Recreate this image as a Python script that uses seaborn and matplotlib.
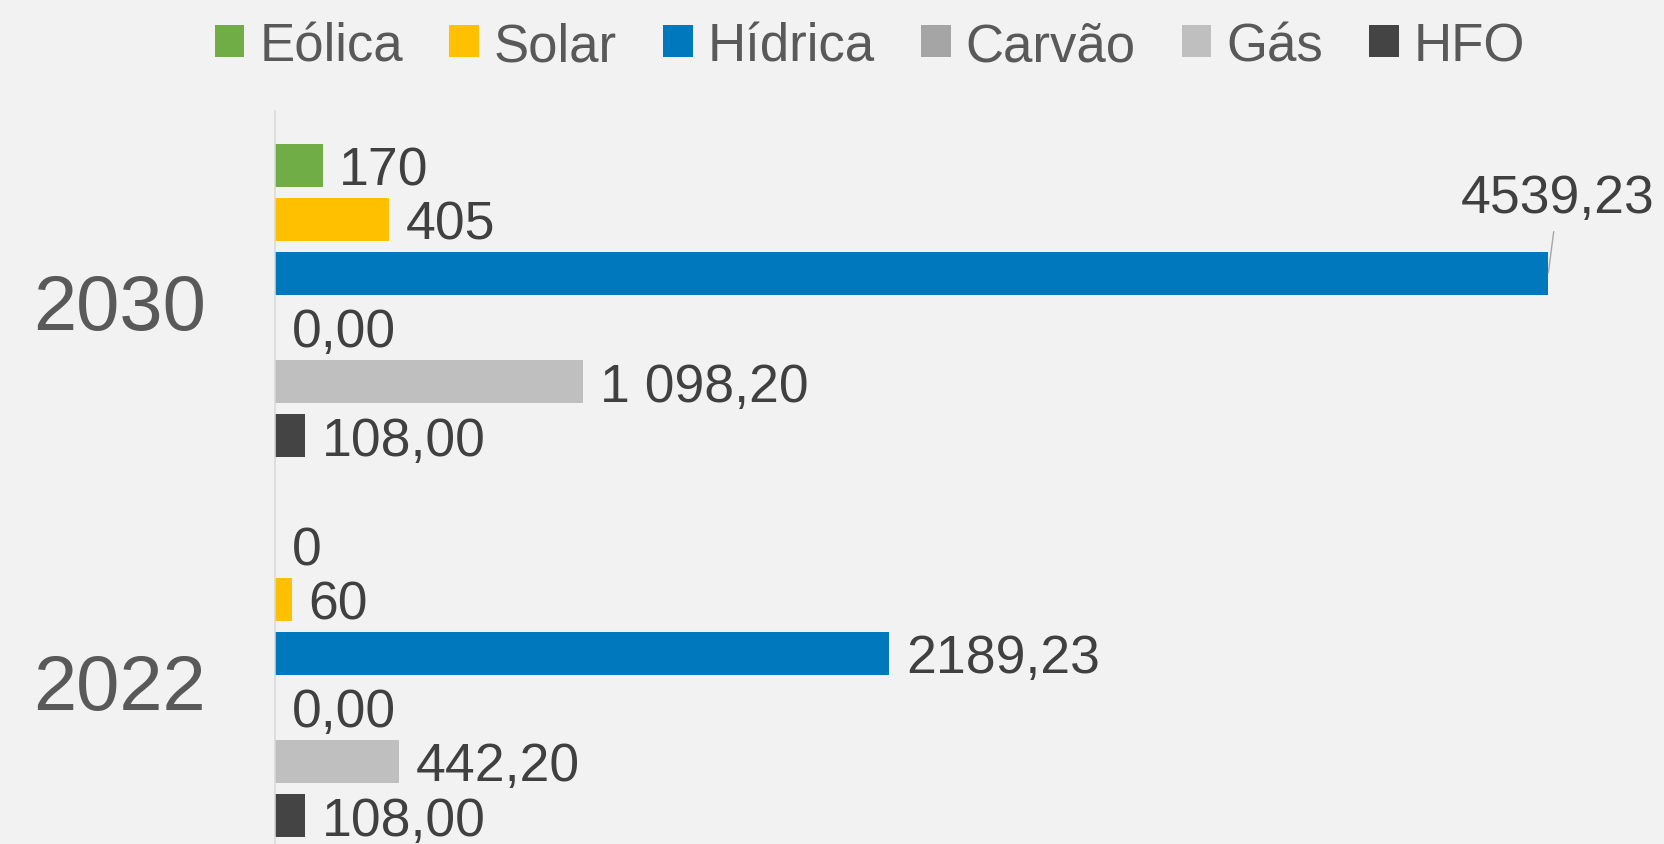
import matplotlib
matplotlib.use("Agg")
import matplotlib.pyplot as plt
from matplotlib.patches import Patch
import seaborn as sns
import pandas as pd

years = ["2030", "2022"]
sources = ["Eólica", "Solar", "Hídrica", "Carvão", "Gás", "HFO"]
values_2030 = [170, 405, 4539.23, 0, 1098.20, 108.00]
values_2022 = [0, 60, 2189.23, 0, 442.20, 108.00]
labels_2030 = ["170", "405", "4539,23", "0,00", "1 098,20", "108,00"]
labels_2022 = ["0", "60", "2189,23", "0,00", "442,20", "108,00"]
colors = ["#70AD47", "#FFC000", "#0078BE", "#A5A5A5", "#BFBFBF", "#444444"]

rows = []
for yr, vals in zip(years, [values_2030, values_2022]):
    for s, v in zip(sources, vals):
        rows.append({"Ano": yr, "Fonte": s, "Valor": v})
df = pd.DataFrame(rows)

sns.set_theme(style="white")
plt.rcParams["font.family"] = ["Liberation Sans", "DejaVu Sans"]

BG = "#F2F2F2"
W, H = 1665, 845
fig = plt.figure(figsize=(W / 100, H / 100), dpi=100, facecolor=BG)
ax_left = 275 / W
ax_top = 112 / H
ax = fig.add_axes([ax_left, 0, 1 - ax_left, 1 - ax_top])
ax.set_facecolor(BG)

sns.barplot(data=df, y="Ano", x="Valor", hue="Fonte", order=years,
            hue_order=sources, palette=colors, orient="h", errorbar=None,
            width=0.853, gap=0.2, legend=False, ax=ax, linewidth=0,
            saturation=1)

ax.set_xlim(0, 4955)
ax.set_ylim(1.430, -0.499)

for spine in ["top", "right", "bottom"]:
    ax.spines[spine].set_visible(False)
ax.spines["left"].set_color("#D9D9D9")
ax.spines["left"].set_linewidth(1.1)
ax.set_xticks([])
ax.set_xlabel("")
ax.set_ylabel("")
ax.tick_params(axis="y", length=0, pad=50, labelsize=56, labelcolor="#595959")

label_color = "#404040"
FS = 38.5
for i, cont in enumerate(ax.containers):
    labs = [labels_2030[i], labels_2022[i]]
    for j, bar in enumerate(cont.patches):
        xend = bar.get_x() + bar.get_width()
        yc = bar.get_y() + bar.get_height() / 2
        if sources[i] == "Hídrica" and j == 0:
            ax.annotate(labs[j], xy=(xend, yc - 0.002), xytext=(7, 54),
                        textcoords="offset points", ha="center", va="center",
                        fontsize=FS, color=label_color,
                        arrowprops=dict(arrowstyle="-", color="#A6A6A6",
                                        lw=1.0, shrinkA=4, shrinkB=0))
        else:
            ax.annotate(labs[j], xy=(xend, yc), xytext=(12, -3.5),
                        textcoords="offset points", ha="left", va="center",
                        fontsize=FS, color=label_color)

handles = [Patch(facecolor=c, edgecolor="none") for c in colors]
leg = fig.legend(handles, sources, loc="center", ncol=6,
                 bbox_to_anchor=(870 / W, 1 - 47 / H), frameon=False,
                 fontsize=38, handlelength=0.56, handleheight=0.56,
                 handletextpad=0.28, columnspacing=0.88, borderaxespad=0,
                 borderpad=0)
for t in leg.get_texts():
    t.set_color("#595959")

fig.savefig("out.png", dpi=100, facecolor=BG)
